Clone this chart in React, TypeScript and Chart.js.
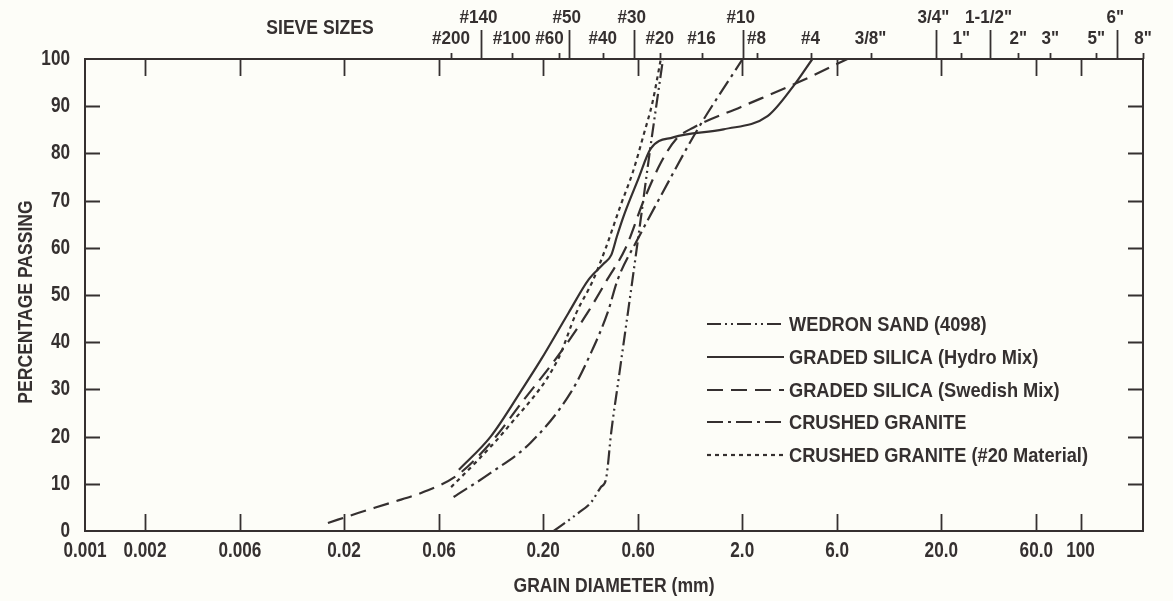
import React, { useEffect, useRef } from 'react';
import { Chart, registerables } from 'chart.js';

Chart.register(...registerables);

// ---------- data ----------
const xTickValues = [0.001, 0.002, 0.006, 0.02, 0.06, 0.2, 0.6, 2, 6, 20, 60, 100];
const xTickLabels = ['0.001', '0.002', '0.006', '0.02', '0.06', '0.20', '0.60', '2.0', '6.0', '20.0', '60.0', '100'];
const yTickValues = [0, 10, 20, 30, 40, 50, 60, 70, 80, 90, 100];

const sieveLabels = ['#200', '#140', '#100', '#60', '#50', '#40', '#30', '#20', '#16', '#10', '#8', '#4', '3/8"', '3/4"', '1"', '1-1/2"', '2"', '3"', '5"', '6"', '8"'];
const sieveSizes = [0.069, 0.097, 0.139, 0.24, 0.269, 0.399, 0.57, 0.77, 1.25, 2.01, 2.36, 4.41, 8.82, 18.7, 25.2, 35.3, 48.7, 70.6, 120, 153, 206];
const sieveMajor = [false, true, false, false, true, false, true, false, false, true, false, false, false, true, false, true, false, false, false, true, false];

const wedronSize = [0.226, 0.3, 0.347, 0.39, 0.413, 0.422, 0.437, 0.478, 0.561, 0.6, 0.69, 0.8];
const wedronPassing = [0, 3.8, 6, 9.3, 10.8, 13.6, 20, 32, 53, 62, 81, 100];

const hydroSize = [0.0755, 0.109, 0.16, 0.195, 0.269, 0.339, 0.4, 0.44, 0.47, 0.51, 0.6, 0.694, 0.9, 1.61, 2.68, 3.62, 4.5];
const hydroPassing = [13, 20, 30.6, 36.3, 46.3, 53.3, 56.5, 58.5, 62.5, 67, 74.5, 81, 83.4, 85.1, 87.9, 94.3, 100];

const swedishSize = [0.0166, 0.0235, 0.0344, 0.0504, 0.0745, 0.109, 0.16, 0.23, 0.335, 0.42, 0.52, 0.64, 0.78, 0.93, 1.14, 1.96, 3.8, 6.75];
const swedishPassing = [1.7, 3.8, 6, 8.3, 11.9, 18.7, 27.8, 36.3, 46.3, 53.3, 60, 70, 78, 83, 85.5, 89.8, 95, 100];

const graniteSize = [0.071, 0.109, 0.173, 0.275, 0.35, 0.422, 0.474, 0.6, 0.78, 1.19, 2.01];
const granitePassing = [7.2, 12.3, 18.7, 29.3, 38, 46.3, 53.3, 62, 71, 85, 100];

const granite20Size = [0.069, 0.094, 0.133, 0.237, 0.292, 0.355, 0.413, 0.49, 0.564, 0.64, 0.71, 0.78];
const granite20Passing = [9.3, 15, 22, 36.3, 46, 53, 60, 69, 76, 84, 91, 100];

const seriesNames = [
  'WEDRON SAND (4098)',
  'GRADED SILICA (Hydro Mix)',
  'GRADED SILICA (Swedish Mix)',
  'CRUSHED GRANITE',
  'CRUSHED GRANITE (#20 Material)',
];

const xTitle = 'GRAIN DIAMETER (mm)';
const yTitle = 'PERCENTAGE PASSING';
const topTitle = 'SIEVE SIZES';

// ---------- style ----------
const FONT = "'Liberation Sans', Arial, sans-serif";
const INK = '#353030';
const BG = '#fdfdf8';
const DASHES: number[][] = [
  [14, 4, 2, 4, 2, 4],
  [],
  [16, 8],
  [16, 5, 3, 5],
  [4, 4],
];

const zip = (xs: number[], ys: number[]) => xs.map((x, i) => ({ x, y: ys[i] }));

function fitScale(ctx: CanvasRenderingContext2D, font: string, ref: string, target: number) {
  ctx.font = font;
  return target / ctx.measureText(ref).width;
}

function drawText(
  ctx: CanvasRenderingContext2D,
  text: string,
  x: number,
  y: number,
  font: string,
  sx: number,
  align: CanvasTextAlign,
  rot = 0,
) {
  ctx.save();
  ctx.font = font;
  ctx.textBaseline = 'middle';
  ctx.textAlign = align;
  ctx.translate(x, y);
  if (rot) ctx.rotate(rot);
  ctx.scale(sx, 1);
  ctx.fillText(text, 0, 0);
  ctx.restore();
}

const decorPlugin = {
  id: 'decor',
  beforeDraw(chart: any) {
    const { ctx, width, height } = chart;
    ctx.save();
    ctx.fillStyle = BG;
    ctx.fillRect(0, 0, width, height);
    ctx.restore();
  },
  afterDraw(chart: any) {
    const { ctx, chartArea: a, scales } = chart;
    const xs = scales.x;
    const ys = scales.y;
    const xt = scales.x2;
    ctx.save();
    ctx.strokeStyle = INK;
    ctx.fillStyle = INK;
    ctx.lineWidth = 2;
    ctx.setLineDash([]);
    ctx.strokeRect(a.left, a.top, a.right - a.left, a.bottom - a.top);

    // inner ticks
    ctx.lineWidth = 1.8;
    ctx.beginPath();
    xTickValues.slice(1).forEach((v) => {
      const px = Math.round(xs.getPixelForValue(v)) + 0.5;
      ctx.moveTo(px, a.bottom);
      ctx.lineTo(px, a.bottom - 17);
      ctx.moveTo(px, a.top);
      ctx.lineTo(px, a.top + 17);
    });
    yTickValues.slice(1, -1).forEach((v) => {
      const py = Math.round(ys.getPixelForValue(v)) + 0.5;
      ctx.moveTo(a.left, py);
      ctx.lineTo(a.left + 15, py);
      ctx.moveTo(a.right, py);
      ctx.lineTo(a.right - 15, py);
    });
    ctx.stroke();

    // tick labels
    const numFont = `bold 22px ${FONT}`;
    const numSx = fitScale(ctx, numFont, '0.001', 43);
    xTickValues.forEach((v, i) => {
      drawText(ctx, xTickLabels[i], xs.getPixelForValue(v), a.bottom + 20, numFont, numSx, 'center');
    });
    yTickValues.forEach((v) => {
      drawText(ctx, String(v), a.left - 15, ys.getPixelForValue(v), numFont, numSx, 'right');
    });

    // titles
    const titleFont = `bold 21px ${FONT}`;
    const titleSx = fitScale(ctx, titleFont, xTitle, 201);
    drawText(ctx, xTitle, (a.left + a.right) / 2, 586, titleFont, titleSx, 'center');
    drawText(ctx, yTitle, 26, 302, titleFont, titleSx, 'center', -Math.PI / 2);
    drawText(ctx, topTitle, 320, 28, titleFont, titleSx, 'center');

    // sieve ticks and labels
    ctx.beginPath();
    sieveSizes.forEach((s, i) => {
      const px = Math.round(xt.getPixelForValue(s)) + 0.5;
      const len = sieveMajor[i] ? 29 : 6;
      ctx.moveTo(px, a.top);
      ctx.lineTo(px, a.top - len);
    });
    ctx.stroke();
    const sieveFont = `bold 18px ${FONT}`;
    const sieveSx = fitScale(ctx, sieveFont, '#140', 38);
    ctx.font = sieveFont;
    const majorPx = sieveSizes
      .map((s, i) => (sieveMajor[i] ? xt.getPixelForValue(s) : null))
      .filter((p) => p !== null) as number[];
    sieveSizes.forEach((s, i) => {
      const px = xt.getPixelForValue(s);
      const label = sieveLabels[i];
      if (sieveMajor[i]) {
        drawText(ctx, label, px - 2, 18, sieveFont, sieveSx, 'center');
      } else {
        ctx.font = sieveFont;
        const w = ctx.measureText(label).width * sieveSx;
        let cx = px;
        majorPx.forEach((m) => {
          if (Math.abs(m - cx) < w / 2 + 4) {
            cx = m < px ? m + w / 2 + 5 : m - w / 2 - 5;
          }
        });
        if (cx + w / 2 > chart.width - 16) cx = chart.width - 16 - w / 2;
        drawText(ctx, label, cx, 39, sieveFont, sieveSx, 'center');
      }
    });

    // legend
    const legFont = `bold 21px ${FONT}`;
    const legSx = fitScale(ctx, legFont, seriesNames[4], 299);
    const rowY = [324, 357, 390, 422, 455];
    seriesNames.forEach((name, i) => {
      const y = rowY[i];
      ctx.lineWidth = 2.2;
      ctx.setLineDash(DASHES[i]);
      ctx.beginPath();
      ctx.moveTo(707, y);
      ctx.lineTo(784, y);
      ctx.stroke();
      ctx.setLineDash([]);
      drawText(ctx, name, 789, y + 1, legFont, legSx, 'left');
    });
    ctx.restore();
  },
};

export default function App() {
  const ref = useRef<HTMLCanvasElement | null>(null);
  useEffect(() => {
    document.body.style.margin = '0';
    const canvas = ref.current;
    if (!canvas) return;
    const mk = (xs: number[], ys: number[], i: number) => ({
      label: seriesNames[i],
      data: zip(xs, ys),
      borderColor: INK,
      borderWidth: 2.2,
      borderDash: DASHES[i],
      pointRadius: 0,
      fill: false,
      cubicInterpolationMode: 'monotone' as const,
    });
    const chart = new Chart(canvas, {
      type: 'line',
      data: {
        datasets: [
          mk(wedronSize, wedronPassing, 0),
          mk(hydroSize, hydroPassing, 1),
          mk(swedishSize, swedishPassing, 2),
          mk(graniteSize, granitePassing, 3),
          mk(granite20Size, granite20Passing, 4),
        ],
      },
      options: {
        animation: false,
        responsive: true,
        maintainAspectRatio: false,
        layout: { padding: { left: 0, top: 0, right: 30, bottom: 0 } },
        plugins: { legend: { display: false }, tooltip: { enabled: false } },
        scales: {
          x: {
            type: 'logarithmic',
            position: 'bottom',
            min: 0.001,
            max: 206,
            grid: { display: false, drawTicks: false },
            border: { display: false },
            afterBuildTicks: (scale: any) => {
              scale.ticks = xTickValues.map((v) => ({ value: v }));
            },
            afterFit: (scale: any) => {
              scale.height = 70;
            },
            ticks: { display: false },
          },
          x2: {
            type: 'logarithmic',
            position: 'top',
            min: 0.001,
            max: 206,
            grid: { display: false, drawTicks: false },
            border: { display: false },
            ticks: { display: false },
            afterFit: (scale: any) => {
              scale.height = 59;
            },
          },
          y: {
            type: 'linear',
            min: 0,
            max: 100,
            grid: { display: false, drawTicks: false },
            border: { display: false },
            afterBuildTicks: (scale: any) => {
              scale.ticks = yTickValues.map((v) => ({ value: v }));
            },
            afterFit: (scale: any) => {
              scale.width = 85;
            },
            ticks: { display: false },
          },
        },
      } as any,
      plugins: [decorPlugin],
    });
    return () => chart.destroy();
  }, []);
  return (
    <div style={{ width: 1173, height: 601, position: 'relative', background: BG }}>
      <canvas ref={ref} />
    </div>
  );
}
